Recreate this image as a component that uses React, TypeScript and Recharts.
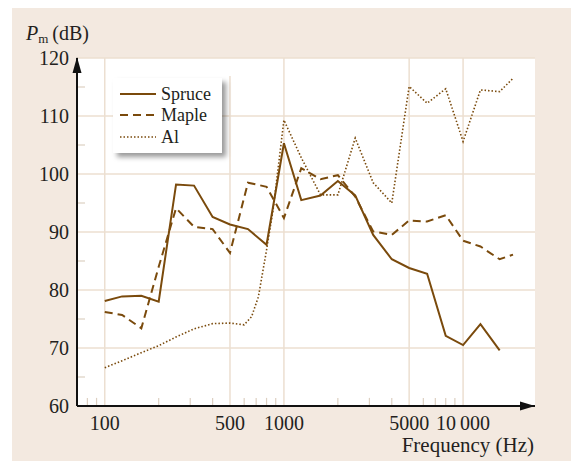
import { LineChart, Line, XAxis, YAxis, CartesianGrid, Legend, ReferenceLine, ReferenceDot } from 'recharts'

// 1/3-octave band frequencies (Hz) and levels (dB)
const spruceFreq = [100, 125, 160, 200, 250, 315, 400, 500, 630, 800, 1000, 1250, 1600, 2000, 2500, 3150, 4000, 5000, 6300, 8000, 10000, 12500, 16000]
const spruceDb = [78.1, 78.9, 79.0, 78.0, 98.2, 98.0, 92.6, 91.3, 90.5, 87.8, 105.3, 95.5, 96.3, 98.8, 96.3, 89.5, 85.3, 83.8, 82.8, 72.1, 70.5, 74.1, 69.6]

const mapleFreq = [100, 125, 160, 200, 250, 315, 400, 500, 630, 800, 1000, 1250, 1600, 2000, 2500, 3150, 4000, 5000, 6300, 8000, 10000, 12500, 16000, 19000]
const mapleDb = [76.2, 75.7, 73.4, 84.0, 94.1, 90.9, 90.5, 86.4, 98.5, 97.8, 92.4, 101.0, 99.1, 99.8, 96.1, 90.1, 89.5, 92.0, 91.8, 92.9, 88.5, 87.5, 85.3, 86.1]

const alFreq = [100, 125, 160, 200, 250, 315, 400, 500, 600, 660, 720, 800, 870, 940, 1000, 1250, 1600, 2000, 2500, 3150, 4000, 5000, 6300, 8000, 10000, 12500, 16000, 19000]
const alDb = [66.6, 67.8, 69.2, 70.4, 71.9, 73.3, 74.2, 74.3, 74.0, 75.4, 78.8, 86.9, 93.8, 102.4, 109.3, 102.8, 96.4, 96.4, 106.2, 98.5, 95.0, 115.1, 112.2, 114.7, 105.6, 114.5, 114.2, 116.5]

const xTicks = [100, 500, 1000, 5000, 10000]
const yTicks = [60, 70, 80, 90, 100, 110, 120]
const xMinor = [80, 90, 200, 300, 400, 600, 700, 800, 900, 2000, 3000, 4000, 6000, 7000, 8000, 9000]
const yMinor = [65, 75, 85, 95, 105, 115]

const X_MIN = 70
const X_MAX = 25200
const ink = '#7a4a0c'
const serif = '"Liberation Serif", "Times New Roman", serif'
const textColor = '#231f20'
const gridColor = '#ecdfd1'

const toPoints = (fs: number[], vs: number[]) => fs.map((f, i) => ({ f, db: vs[i] }))

const series = [
  { name: 'Spruce', data: toPoints(spruceFreq, spruceDb), dash: undefined, width: 2 },
  { name: 'Maple', data: toPoints(mapleFreq, mapleDb), dash: '8 5', width: 2 },
  { name: 'Al', data: toPoints(alFreq, alDb), dash: '1.5 2', width: 1.6 },
]

const LegendBox = () => (
  <div
    style={{
      background: '#fff',
      width: 109,
      height: 75,
      boxSizing: 'border-box',
      paddingTop: 5.5,
      boxShadow: '4px 4px 5px rgba(0,0,0,0.4)',
      fontFamily: serif,
      fontSize: 18,
      color: textColor,
    }}
  >
    {series.map((s) => (
      <div key={s.name} style={{ display: 'flex', alignItems: 'center', height: 21.3 }}>
        <svg width={36} height={10} style={{ marginLeft: 7, marginRight: 5 }}>
          <line x1={0} y1={5} x2={36} y2={5} stroke={ink} strokeWidth={s.width} strokeDasharray={s.dash} />
        </svg>
        <span style={{ lineHeight: 1 }}>{s.name}</span>
      </div>
    ))}
  </div>
)

const UpArrow = (p: any) => (
  <path d={`M${p.cx},${p.cy - 1} L${p.cx - 4.5},${p.cy + 15} L${p.cx + 4.5},${p.cy + 15} Z`} fill="#111" />
)
const RightArrow = (p: any) => (
  <path d={`M${p.cx},${p.cy} L${p.cx - 15},${p.cy - 4.5} L${p.cx - 15},${p.cy + 4.5} Z`} fill="#111" />
)

const App = () => {
  return (
    <div style={{ position: 'absolute', left: 0, top: 0, width: 571, height: 461, background: '#fff' }}>
      <div style={{ position: 'absolute', left: 12, top: 8, right: 0, bottom: 0, background: '#f3e9e0' }} />
      <div style={{ position: 'absolute', left: 0, top: 0 }}>
        <LineChart width={571} height={461} margin={{ top: 58, right: 36, left: 0, bottom: 15 }}>
          <CartesianGrid
            fill="#fff"
            stroke={gridColor}
            strokeWidth={1.5}
            horizontalValues={[70, 80, 90, 100, 110, 120]}
            verticalValues={[100, 1000, 5000, 10000]}
          />
          <XAxis
            dataKey="f"
            type="number"
            scale="log"
            domain={[X_MIN, X_MAX]}
            allowDataOverflow
            ticks={xTicks}
            tickFormatter={(v) => (v === 10000 ? '10\u2009000' : String(v))}
            tickLine={false}
            tickSize={8}
            tickMargin={2}
            height={40}
            axisLine={{ stroke: '#111', strokeWidth: 2 }}
            tick={{ fill: textColor, fontFamily: serif, fontSize: 20 }}
            label={{
              content: (props: any) => {
                const vb = props.viewBox
                return (
                  <text x={vb.x + vb.width - 1} y={vb.y + 46} textAnchor="end" fill={textColor} fontFamily={serif} fontSize={21}>
                    Frequency (Hz)
                  </text>
                )
              },
            }}
          />
          <YAxis
            type="number"
            domain={[60, 120]}
            ticks={yTicks}
            width={77}
            tickLine={false}
            tickSize={6}
            tickMargin={2}
            axisLine={{ stroke: '#111', strokeWidth: 2 }}
            tick={{ fill: textColor, fontFamily: serif, fontSize: 20 }}
            label={{
              content: () => (
                <text x={26} y={40} fill={textColor} fontFamily={serif} fontSize={20}>
                  <tspan fontStyle="italic">P</tspan>
                  <tspan fontSize={13} dy={3}>m</tspan>
                  <tspan dy={-3} dx={4}>(dB)</tspan>
                </text>
              ),
            }}
          />
          <ReferenceLine segment={[{ x: 500, y: 60 }, { x: 500, y: 116.9 }]} stroke={gridColor} strokeWidth={1.5} />
          {xMinor.map((f) => (
            <ReferenceLine key={'xm' + f} segment={[{ x: f, y: 60 }, { x: f, y: 61.4 }]} stroke="#ddd0c2" strokeWidth={1.2} />
          ))}
          {yMinor.map((v) => (
            <ReferenceLine key={'ym' + v} segment={[{ x: X_MIN, y: v }, { x: 77.6, y: v }]} stroke="#ddd0c2" strokeWidth={1.2} />
          ))}
          {series.map((s) => (
            <Line
              key={s.name}
              name={s.name}
              data={s.data}
              dataKey="db"
              type="linear"
              stroke={ink}
              strokeWidth={s.width}
              strokeDasharray={s.dash}
              dot={false}
              activeDot={false}
              isAnimationActive={false}
            />
          ))}
          <ReferenceDot x={X_MIN} y={120} ifOverflow="visible" shape={UpArrow} />
          <ReferenceDot x={X_MAX} y={60} ifOverflow="visible" shape={RightArrow} />
          <Legend
            layout="vertical"
            align="center"
            verticalAlign="middle"
            wrapperStyle={{ left: 113, top: 78, width: 109 }}
            content={() => <LegendBox />}
          />
        </LineChart>
      </div>
    </div>
  )
}

export default App
